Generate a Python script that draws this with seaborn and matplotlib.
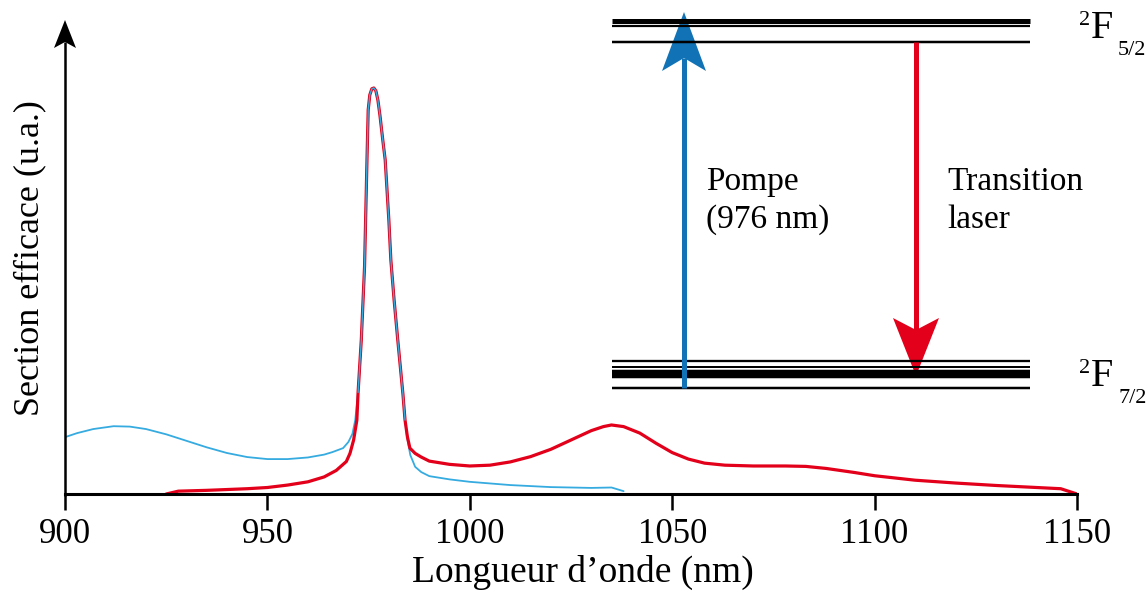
import matplotlib
matplotlib.use("Agg")
import numpy as np
import pandas as pd
import seaborn as sns
import matplotlib.pyplot as plt

# absorption cross-section (blue), arbitrary units, peak = 1
wl_abs = [900, 903, 907, 912, 916, 920, 925, 930, 935, 940, 945, 950, 955, 960,
          964, 966, 968.7, 970, 971, 971.7,
          972.4, 973.2, 974.0, 974.6, 974.9, 975.3, 975.8, 976.3, 976.8, 977.3,
          977.8, 978.5, 979.1, 980.0, 980.5, 981.3, 982.2, 983.5, 984.0, 984.5,
          985.3, 986.5, 988, 990, 995, 1000, 1010, 1020, 1030, 1035, 1038]
abs_vals = [0.140, 0.150, 0.160, 0.167, 0.166, 0.160, 0.147, 0.131, 0.115, 0.101,
            0.091, 0.086, 0.086, 0.090, 0.097, 0.103, 0.113, 0.128, 0.148, 0.182,
            0.250, 0.380, 0.560, 0.823, 0.946, 0.983, 0.998, 1.000, 0.993, 0.970,
            0.933, 0.872, 0.823, 0.675, 0.576, 0.478, 0.380, 0.244, 0.182, 0.140,
            0.096, 0.067, 0.054, 0.044, 0.036, 0.030, 0.022, 0.017, 0.015, 0.016, 0.007]

# emission cross-section (red)
wl_em = [925, 928, 935, 945, 950, 955, 960, 964, 967, 969.5, 970.4, 971.3, 972.1,
         972.4, 973.2, 974.0, 974.6, 974.9, 975.3, 975.8, 976.3, 976.8, 977.3,
         977.8, 978.5, 979.1, 980.0, 980.5, 981.3, 982.2, 983.5, 984.0, 984.6,
         985.2, 986.5, 988, 990, 995, 1000, 1005, 1010, 1015, 1020, 1025, 1030,
         1033, 1035, 1038, 1042, 1046, 1050, 1054, 1058, 1063, 1070, 1078, 1083,
         1088, 1095, 1100, 1110, 1120, 1130, 1140, 1146, 1150]
em_vals = [0.000, 0.007, 0.009, 0.013, 0.016, 0.022, 0.030, 0.042, 0.058, 0.080,
           0.100, 0.133, 0.182,
           0.250, 0.380, 0.560, 0.823, 0.946, 0.983, 0.998, 1.000, 0.993, 0.970,
           0.933, 0.872, 0.823, 0.675, 0.576, 0.478, 0.380, 0.244, 0.182, 0.140,
           0.113, 0.100, 0.091, 0.081, 0.073, 0.069, 0.071, 0.079, 0.092, 0.110,
           0.133, 0.156, 0.166, 0.170, 0.166, 0.150, 0.125, 0.102, 0.086, 0.076,
           0.071, 0.069, 0.069, 0.068, 0.063, 0.053, 0.045, 0.034, 0.027, 0.021,
           0.016, 0.013, 0.000]

x_ticks = [900, 950, 1000, 1050, 1100, 1150]

BLUE_CURVE = "#35abe0"
RED = "#e2001a"
BLUE = "#1172b6"

sns.set_style("ticks")
plt.rcParams["font.family"] = ["Liberation Serif", "DejaVu Serif"]
plt.rcParams["text.color"] = "black"
plt.rcParams["axes.labelcolor"] = "black"

W, H = 1148, 592
fig = plt.figure(figsize=(W / 100, H / 100), dpi=100)
ax = fig.add_axes([65 / W, 98 / H, 1012 / W, 472 / H])

df_abs = pd.DataFrame({"wl": wl_abs, "val": abs_vals})
df_em = pd.DataFrame({"wl": wl_em, "val": em_vals})
sns.lineplot(data=df_abs, x="wl", y="val", ax=ax, color=BLUE_CURVE, lw=1.3,
             sort=False, estimator=None)
sns.lineplot(data=df_em, x="wl", y="val", ax=ax, color=RED, lw=2.3,
             sort=False, estimator=None)
# blue drawn over red at the shared peak
sns.lineplot(data=df_abs[(df_abs.wl > 972) & (df_abs.wl < 984.5)], x="wl", y="val",
             ax=ax, color=BLUE_CURVE, lw=1.0, sort=False, estimator=None)

ax.set_xlim(900, 1150)
ax.set_ylim(0, 472 / 406)
ax.set_xticks(x_ticks)
ax.set_xticklabels([str(t) for t in x_ticks], fontsize=25)
ax.set_yticks([])
ax.tick_params(axis="x", direction="out", length=11.5, width=1.8, pad=6,
               colors="black")
for s in ["top", "right", "left"]:
    ax.spines[s].set_visible(False)
ax.spines["bottom"].set_linewidth(2.2)
ax.spines["bottom"].set_color("black")
ax.set_xlabel("Longueur d’onde (nm)", fontsize=27)
ax.xaxis.set_label_coords(0.512, -0.13)
ax.set_ylabel("Section efficace (u.a.)", fontsize=26)
ax.yaxis.set_label_coords(-0.018, 0.5)

# energy level diagram overlay (pixel coordinates)
dax = fig.add_axes([0, 0, 1, 1], zorder=5)
dax.set_xlim(0, W)
dax.set_ylim(H, 0)
dax.axis("off")
dax.patch.set_alpha(0)


def stealth_arrow(x, y0, tip, corner, notch, half_w, lw, color):
    dax.plot([x, x], [y0, notch], color=color, lw=lw, solid_capstyle="butt")
    dax.fill([x, x - half_w, x, x + half_w], [tip, corner, notch, corner],
             color=color, lw=0)


# y axis with arrow
stealth_arrow(65, 495.5, 20, 48, 42, 11, 1.8, "black")

x0, x1 = 612, 1030
upper = [(21, 5.0), (26.2, 2.2), (42, 2.5)]
lower = [(361, 2.3), (366.7, 2.0), (371.5, 4.5), (376, 4.5), (387.7, 2.5)]
for y, w in upper + lower:
    dax.plot([x0, x1], [y, y], color="black", lw=w / 1.389, solid_capstyle="butt")

stealth_arrow(684, 388, 12, 71, 58, 22, 3.6, BLUE)
stealth_arrow(916, 42, 376, 318, 330, 23, 3.6, RED)

dax.text(706, 190, "Pompe", fontsize=24, va="baseline", ha="left")
dax.text(706, 228, "(976 nm)", fontsize=24, va="baseline", ha="left")
dax.text(947, 190, "Transition", fontsize=24, va="baseline", ha="left")
dax.text(947, 228, "laser", fontsize=24, va="baseline", ha="left")

for ybase, sub in [(38, "5/2"), (386, "7/2")]:
    dax.text(1079, ybase - 13, "2", fontsize=16, va="baseline", ha="left")
    dax.text(1091, ybase, "F", fontsize=29, va="baseline", ha="left")
    dax.text(1118, ybase + 17, sub, fontsize=16, va="baseline", ha="left")

fig.savefig("out.png", dpi=100)
